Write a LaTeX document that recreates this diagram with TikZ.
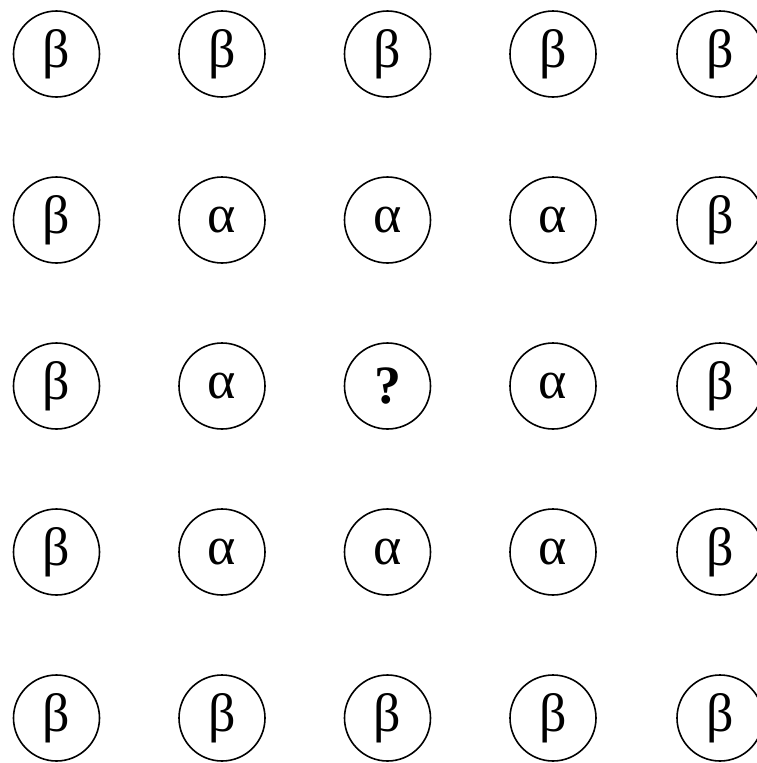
\documentclass[tikz,border=0pt]{standalone}
\usepackage{fontspec}
\setmainfont{Liberation Serif}
\begin{document}
\begin{tikzpicture}[x=1pt,y=-1pt,
  cell/.style={circle,draw,line width=1.6pt,minimum size=86pt,inner sep=0pt,font=\fontsize{54}{54}\selectfont}]
\useasboundingbox (0,0) rectangle (757,763);
\clip (0,0) rectangle (757,763);
\foreach \r [count=\i] in {54,220,386,552,718}{
  \foreach \c [count=\j] in {56.5,222,387.5,553,720}{
    \pgfmathtruncatemacro{\inner}{(\i>1)&&(\i<5)&&(\j>1)&&(\j<5)}
    \pgfmathtruncatemacro{\mid}{(\i==3)&&(\j==3)}
    \ifnum\mid=1
      \node[cell] (n\i\j) at (\c,\r) {\textbf{?}};
    \else\ifnum\inner=1
      \node[cell] (n\i\j) at (\c,\r) {α};
    \else
      \node[cell] (n\i\j) at (\c,\r) {β};
    \fi\fi
  }
}
\end{tikzpicture}
\end{document}
